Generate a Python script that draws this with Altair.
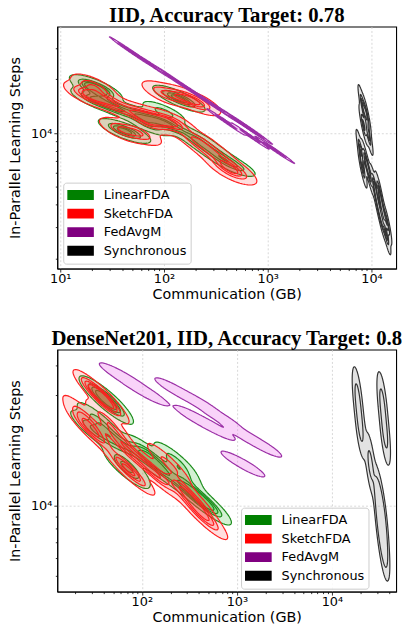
import numpy as np
import pandas as pd
import altair as alt

# ---------------------------------------------------------------- data
GROUPS = ["LinearFDA", "SketchFDA", "FedAvgM", "Synchronous"]
LEGEND_COLORS = ["#008000", "#ff0000", "#800080", "#000000"]
LINE_COLORS = ["#1b8c1b", "#ff1f1f", "#9b2fa6", "#333333"]
FILL_COLORS = ["#22bb22", "#ff3030", "#ee82ee", "#8a8a8a"]
FILL_ALPHA = [0.2, 0.16, 0.35, 0.25]
FILL_ALL_LEVELS = [True, True, False, False]
LEVELS = [0.05, 0.2875, 0.525, 0.7625]

# Panel 1: IID, accuracy target 0.78  (communication GB, in-parallel steps)
p1_lin_comm = [20.2, 24.0, 22.5, 20.2, 26.8, 37.3, 57.8, 85.8, 117, 37.3, 46.4, 125, 155, 193, 257, 349, 475, 72.0, 100]
p1_lin_steps = [18310, 17850, 16960, 15510, 14740, 13470, 12640, 11860, 10980, 10430, 10170, 16120, 15120, 9540, 8390, 7390, 6580, 11120, 13130]
p1_sk_comm = [21.1, 17.7, 23.0, 35.7, 60.4, 93.6, 125, 100, 155, 215, 38.9, 57.8, 206, 286, 398, 475, 72.0]
p1_sk_steps = [18310, 16510, 15910, 14180, 12800, 11860, 11410, 16740, 15910, 14740, 10430, 10040, 9180, 7870, 6670, 6020, 11560]
p1_fa_comm = [46.4, 72.0, 117, 193, 320, 518, 720, 398, 674, 1166]
p1_fa_steps = [29030, 24580, 20550, 16960, 14000, 11700, 10300, 11560, 9660, 8080]
p1_sy_comm = [8208, 8965, 8390, 9363, 7858, 8768, 8208, 9572, 10680, 11920, 11410, 12730, 12450, 14200, 13900]
p1_sy_steps = [14360, 12640, 11120, 9790, 8080, 7110, 6420, 5870, 5160, 4720, 4100, 3750, 3300, 3100, 2720]
p1_bw = [0.4, 0.4, 0.28, 0.4]
p1_line_levels = [4, 4, 4, 4]

# Panel 2: DenseNet201, IID, accuracy target 0.8
p2_lin_comm = [40.6, 40.6, 45.7, 35.1, 29.7, 40.6, 58.1, 70.4, 68.7, 93.7, 119, 134, 171, 227, 256, 310, 350, 444, 501]
p2_lin_steps = [28900, 29470, 27240, 23290, 21330, 20310, 18660, 15140, 14270, 16700, 16700, 15430, 14000, 15740, 14000, 11850, 11280, 10430, 10130]
p2_sk_comm = [36.9, 36.0, 38.7, 25.7, 28.3, 30.4, 43.6, 55.4, 73.8, 68.7, 77.4, 119, 151, 192, 256, 350, 394, 455]
p2_sk_steps = [29760, 29470, 29180, 24230, 21750, 20710, 23290, 19720, 17030, 14550, 14000, 14700, 13330, 15140, 12080, 10640, 9640, 8920]
p2_fa_comm = [60.9, 83.2, 111, 233, 394, 667, 1157, 1739, 376, 564, 1157]
p2_fa_steps = [36210, 33150, 30640, 31260, 27790, 23990, 20310, 18410, 23760, 21750, 15140]
p2_sy_comm = [18590, 19970, 33820, 36330, 25380, 30720, 32540, 33010, 33010, 33820, 33820, 35460]
p2_sy_steps = [29180, 21750, 27790, 20310, 15140, 10950, 9640, 8570, 8900, 7620, 8100, 6520]
p2_bw = [0.5, 0.5, 0.33, 0.45]
p2_line_levels = [4, 4, 1, 2]

P1_XDOM = [9.36, 17300]
P1_YDOM = [1750, 39500]
P2_XDOM = [12.9, 47400]
P2_YDOM = [4290, 46900]


# ---------------------------------------------------------------- KDE + contours
def march(Z, xs, ys, lev):
    B = Z > lev
    idx = B[:-1, :-1] * 1 + B[:-1, 1:] * 2 + B[1:, 1:] * 4 + B[1:, :-1] * 8
    js, iis = np.nonzero((idx > 0) & (idx < 15))
    table = {1: [(3, 0)], 2: [(0, 1)], 3: [(3, 1)], 4: [(1, 2)], 6: [(0, 2)], 7: [(3, 2)],
             8: [(2, 3)], 9: [(0, 2)], 11: [(1, 2)], 12: [(1, 3)], 13: [(0, 1)], 14: [(0, 3)]}
    adj = {}
    for j, i in zip(js, iis):
        c = idx[j, i]
        e = [("h", j, i), ("v", j, i + 1), ("h", j + 1, i), ("v", j, i)]
        if c in (5, 10):
            center = (Z[j, i] + Z[j, i + 1] + Z[j + 1, i + 1] + Z[j + 1, i]) / 4 > lev
            if c == 5:
                segs = [(0, 1), (2, 3)] if center else [(3, 0), (1, 2)]
            else:
                segs = [(3, 0), (1, 2)] if center else [(0, 1), (2, 3)]
        else:
            segs = table[c]
        for a, b in segs:
            adj.setdefault(e[a], []).append(e[b])
            adj.setdefault(e[b], []).append(e[a])

    def pt(key):
        kind, j, i = key
        if kind == "h":
            za, zb = Z[j, i], Z[j, i + 1]
            t = (lev - za) / (zb - za)
            return xs[i] + t * (xs[i + 1] - xs[i]), ys[j]
        za, zb = Z[j, i], Z[j + 1, i]
        t = (lev - za) / (zb - za)
        return xs[i], ys[j] + t * (ys[j + 1] - ys[j])

    visited = set()
    paths = []
    for start in adj:
        if start in visited:
            continue
        path = [start]
        visited.add(start)
        cur = start
        while True:
            nxt = [n for n in adj[cur] if n not in visited]
            if not nxt:
                break
            cur = nxt[0]
            visited.add(cur)
            path.append(cur)
        if len(path) > 3:
            paths.append([pt(k) for k in path])
    return paths


def contour_df(comm, steps, bw, ngrid=180):
    X = np.log10(np.asarray(comm, float))
    Y = np.log10(np.asarray(steps, float))
    n = len(X)
    cov = np.cov(np.vstack([X, Y])) * (n ** (-1.0 / 6.0) * bw) ** 2
    inv = np.linalg.inv(cov)
    sx, sy = np.sqrt(cov[0, 0]), np.sqrt(cov[1, 1])
    xs = np.linspace(X.min() - 4 * sx, X.max() + 4 * sx, ngrid)
    ys = np.linspace(Y.min() - 4 * sy, Y.max() + 4 * sy, ngrid)
    GX, GY = np.meshgrid(xs, ys)
    Z = np.zeros_like(GX)
    for x0, y0 in zip(X, Y):
        dx, dy = GX - x0, GY - y0
        Z += np.exp(-0.5 * (inv[0, 0] * dx * dx + 2 * inv[0, 1] * dx * dy + inv[1, 1] * dy * dy))
    flat = np.sort(Z.ravel())
    cdf = np.cumsum(flat)
    cdf /= cdf[-1]
    rows = []
    pid = 0
    for li, p in enumerate(LEVELS):
        lev = flat[min(np.searchsorted(cdf, p), len(flat) - 1)]
        for path in march(Z, xs, ys, lev):
            for k, (lx, ly) in enumerate(path):
                rows.append((10 ** lx, 10 ** ly, pid, k, li))
            pid += 1
    return pd.DataFrame(rows, columns=["x", "y", "pid", "k", "level"])


# ---------------------------------------------------------------- axes
MAJOR = "abs(log(datum.value)/LN10 - round(log(datum.value)/LN10)) < 1e-6"
LABEL = MAJOR + " ? '10' + ['⁰','¹','²','³','⁴','⁵'][round(log(datum.value)/LN10)] : ''"


def ticks_in(dom):
    vals = []
    for e in range(0, 6):
        for m in range(1, 10):
            v = m * 10 ** e
            if dom[0] <= v <= dom[1]:
                vals.append(v)
    return vals


def log_axis(dom, title, tpad, lpad):
    return alt.Axis(
        values=ticks_in(dom), title=title, labelExpr=LABEL, labelOverlap=False, labelFlush=False,
        tickSize={"condition": {"test": MAJOR, "value": 3.5}, "value": 2}, tickWidth=0.8,
        gridOpacity={"condition": {"test": MAJOR, "value": 1}, "value": 0},
        grid=True, gridColor="#cfcfcf", gridDash=[2, 2], gridWidth=0.8,
        titlePadding=tpad, labelPadding=lpad,
    )


def panel(series, bws, nlines, xdom, ydom, title, lx, ly):
    xenc = alt.X("x:Q", scale=alt.Scale(type="log", domain=xdom, nice=False),
                 axis=log_axis(xdom, "Communication (GB)", 2, 1))
    yenc = alt.Y("y:Q", scale=alt.Scale(type="log", domain=ydom, nice=False),
                 axis=log_axis(ydom, "In-Parallel Learning Steps", 8, 2))
    layers = []
    for gi, ((comm, steps), bw, nl) in enumerate(zip(series, bws, nlines)):
        df = contour_df(comm, steps, bw)
        fdf = df if FILL_ALL_LEVELS[gi] else df[df.level == 0]
        ldf = df[df.level < nl]
        layers.append(
            alt.Chart(fdf).mark_line(interpolate="linear-closed", fill=FILL_COLORS[gi],
                                     fillOpacity=FILL_ALPHA[gi], strokeOpacity=0, clip=True)
            .encode(x=xenc, y=yenc, detail="pid:N", order="k:Q")
        )
        layers.append(
            alt.Chart(ldf).mark_line(interpolate="linear-closed", color=LINE_COLORS[gi],
                                     strokeWidth=1.2, clip=True)
            .encode(x=xenc, y=yenc, detail="pid:N", order="k:Q")
        )
    leg = alt.Chart(pd.DataFrame({"g": GROUPS})).mark_point(filled=True, size=0, opacity=1).encode(
        x=alt.value(0), y=alt.value(0),
        color=alt.Color("g:N", scale=alt.Scale(domain=GROUPS, range=LEGEND_COLORS),
                        legend=alt.Legend(
                            title=None, orient="none", legendX=lx, legendY=ly,
                            symbolType="M-1,-0.37L1,-0.37L1,0.37L-1,0.37Z", symbolSize=729,
                            symbolOpacity=1, symbolStrokeWidth=0,
                            labelFont="DejaVu Sans", labelFontSize=13, labelColor="black",
                            labelOffset=10, clipHeight=17, rowPadding=1.8, padding=4,
                            strokeColor="#cccccc", fillColor="rgba(255,255,255,0.85)",
                            cornerRadius=3)),
    )
    layers.append(leg)
    return alt.layer(*layers).properties(
        width=343, height=245,
        title=alt.TitleParams(title, font="Liberation Serif", fontSize=21, fontWeight="bold",
                              color="black", frame="group", anchor="middle", offset=1),
    )


p1 = panel([(p1_lin_comm, p1_lin_steps), (p1_sk_comm, p1_sk_steps),
            (p1_fa_comm, p1_fa_steps), (p1_sy_comm, p1_sy_steps)], p1_bw, p1_line_levels,
           P1_XDOM, P1_YDOM, "IID, Accuracy Target: 0.78", 6, 158)
p2 = panel([(p2_lin_comm, p2_lin_steps), (p2_sk_comm, p2_sk_steps),
            (p2_fa_comm, p2_fa_steps), (p2_sy_comm, p2_sy_steps)], p2_bw, p2_line_levels,
           P2_XDOM, P2_YDOM, "DenseNet201, IID, Accuracy Target: 0.8", 186, 160)

chart = (
    alt.vconcat(p1, p2, spacing=25)
    .resolve_scale(x="independent", y="independent", color="independent")
    .resolve_legend(color="independent")
    .properties(padding={"left": 7, "top": 0, "right": 5, "bottom": 5})
    .configure_view(stroke="black", strokeWidth=1.1)
    .configure_axis(labelFont="DejaVu Sans", labelFontSize=13, labelColor="black",
                    titleFont="DejaVu Sans", titleFontSize=14.5, titleFontWeight="normal",
                    titleColor="black", domainColor="black", tickColor="black")
)
chart.save("out.html", embed_options={"renderer": "svg", "actions": False})
